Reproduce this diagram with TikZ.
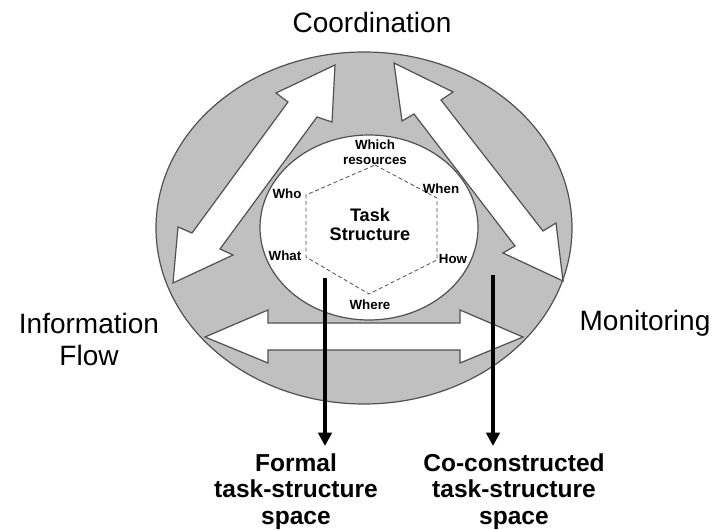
\documentclass[tikz,border=0pt]{standalone}
\usepackage{fontspec}
\setmainfont{Liberation Sans}
\usetikzlibrary{arrows, arrows.meta}

\definecolor{ringgray}{RGB}{192,192,192}
\definecolor{edgegray}{RGB}{80,80,80}

\begin{document}
\begin{tikzpicture}[x=0.75pt,y=-0.75pt,
  rim/.style={draw=edgegray,line width=0.9pt},
  blockarrow/.style={rim,fill=white,line join=miter},
  facet/.style={font=\fontsize{10}{11.25}\selectfont\bfseries,align=center,inner sep=0pt},
  sidelabel/.style={font=\fontsize{21}{24}\selectfont,align=center,inner sep=0pt},
  spacelabel/.style={font=\fontsize{18.4}{19.9}\selectfont\bfseries,align=center,inner sep=0pt},
  leader/.style={line width=3pt,-{Triangle[length=10pt,width=10pt]}}]
\useasboundingbox (0,0) rectangle (715,530);

\draw[rim,fill=ringgray] (364,228) ellipse [x radius=208, y radius=176];
\draw[rim,fill=white] (369,227.5) ellipse [x radius=109, y radius=92.5];

%\draw[step=10,gray,very thin] (0,0) grid (715,530); %background grid

\draw[blockarrow] (335,65) -- (332,122) -- (317,117) -- (220,249) -- (233,255) -- (173,283)
  -- (178,227) -- (192,233) -- (288,102) -- (276,93) -- cycle;
\draw[blockarrow] (394,63) -- (453,92) -- (441,100) -- (543,231) -- (556,223) -- (563,281)
  -- (503,253) -- (515,246) -- (414,114) -- (402,121) -- cycle;
\draw[blockarrow] (205,337) -- (268,310) -- (268,323) -- (460,323) -- (460,310) -- (523,337)
  -- (460,363) -- (460,350) -- (268,350) -- (268,363) -- cycle;

\draw[edgegray,line width=0.6pt,dash pattern=on 3pt off 2pt] (375,165) -- (437,198) -- (437,260)
  -- (369,294) -- (306,257) -- (306,195) -- cycle;

\node[facet] (which) at (375,152.5) {Which\\resources};
\node[facet] (who) at (287,194) {Who};
\node[facet] (when) at (441,189) {When};
\node[facet] (what) at (285,256) {What};
\node[facet] (how) at (453,259) {How};
\node[facet] (where) at (370,305) {Where};
\node[font=\fontsize{13.6}{14.25}\selectfont\bfseries,align=center,inner sep=0pt] (task) at (370,224.5) {Task\\Structure};

\node[sidelabel] (coord) at (372,22) {Coordination};
\node[sidelabel] (info) at (89,339) {Information\\Flow};
\node[sidelabel] (monit) at (645,323) {Monitoring};

\node[spacelabel] (formal) at (296,491.5) {Formal\\task-structure\\space};
\node[spacelabel] (cocon) at (514,491.5) {Co-constructed\\task-structure\\space};

\coordinate (formaltop) at (325,278);
\coordinate (formaltip) at (325,446);
\coordinate (cocontop) at (493,275);
\coordinate (cocontip) at (493,446);
\draw[leader] (formaltop) -- (formaltip);
\draw[leader] (cocontop) -- (cocontip);
\end{tikzpicture}
\end{document}
